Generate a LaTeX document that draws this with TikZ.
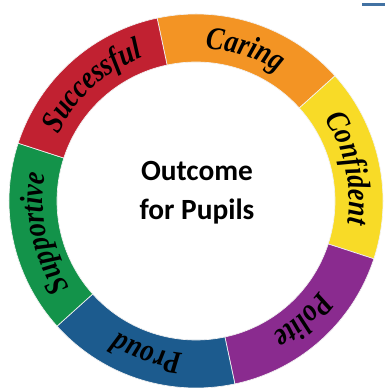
\documentclass[tikz,border=0pt]{standalone}
\usepackage{fontspec}
\newfontfamily\valuefont{Liberation Serif}[FakeStretch=0.84]
\newfontfamily\centrefont{Carlito}
\usetikzlibrary{decorations.text}
\definecolor{caring}{HTML}{F39424}
\definecolor{confident}{HTML}{F8DB27}
\definecolor{polite}{HTML}{8A2B8F}
\definecolor{proud}{HTML}{1C5B8E}
\definecolor{supportive}{HTML}{13934A}
\definecolor{successful}{HTML}{C12131}
\definecolor{edgeblue}{HTML}{4272A3}
\newcommand\valuestyle{\valuefont\bfseries\itshape\fontsize{24}{28}\selectfont}
\tikzset{
  ring/.style   = {draw=white!90!gray, line width=0.5pt},
  centre/.style = {font=\centrefont\bfseries\fontsize{22}{26}\selectfont,
                   anchor=base, inner sep=0pt},
}

\begin{document}
\begin{tikzpicture}[x=0.75pt, y=0.75pt]
  \useasboundingbox (-196,-187) rectangle (189,201);
  \def\rin{139}
  \def\rout{187}
  % six segments of the ring, clockwise from the top, each 60 degrees
  \foreach \a/\col/\word in {102/caring/Caring, 42/confident/Confident,
      -18/polite/Polite, -78/proud/Proud, -138/supportive/Supportive,
      162/successful/Successful}{
    \path[fill=\col, ring] (\a:\rout) arc[start angle=\a, end angle=\a-60, radius=\rout]
      -- (\a-60:\rin) arc[start angle=\a-60, end angle=\a, radius=\rin] -- cycle;
    % word runs clockwise, so letters lean outwards
    \path[decorate, decoration={text along path, text align=center,
        text/.expanded={|\noexpand\valuestyle|\word}}]
      (\a-2:153) arc[start angle=\a-2, end angle=\a-58, radius=153];
  }
  \node[centre] (outcome) at (1,20) {Outcome};
  \node[centre] (pupils) at (1,-19) {for Pupils};
  % bit of a rule at the top edge
  \draw[edgeblue, line width=1.9pt] (166,196.5) -- (189,196.5);
\end{tikzpicture}
\end{document}
